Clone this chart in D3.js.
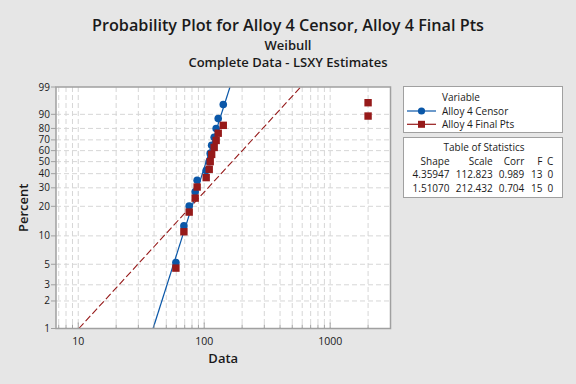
<!DOCTYPE html>
<html><head><meta charset="utf-8">
<script src="https://cdn.jsdelivr.net/npm/d3@7"></script>
<style>
html,body{margin:0;padding:0;background:#e6e6e6;}
svg{display:block;font-family:"Open Sans","Noto Sans",sans-serif;}
</style></head>
<body>
<svg id="c" width="576" height="384"></svg>
<script>
// ---------- data ----------
const seriesNames = ["Alloy 4 Censor", "Alloy 4 Final Pts"];
const censorData = [59.6, 69.0, 76.0, 84.8, 87.9, 103.7, 109.6, 111.6, 114.6, 120.0, 124.4, 129.2, 141.7];
const finalPtsData = [59.6, 69.0, 76.0, 84.8, 87.9, 103.7, 109.6, 111.6, 114.6, 120.0, 124.4, 129.2, 141.7, 2000, 2000];
const shapes = [4.35947, 1.51070];
const scales = [112.823, 212.432];
const statHeaders = ["Shape", "Scale", "Corr", "F", "C"];
const statRows = [["4.35947", "112.823", "0.989", "13", "0"], ["1.51070", "212.432", "0.704", "15", "0"]];
const percentTicks = [1, 2, 3, 5, 10, 20, 30, 40, 50, 60, 70, 80, 90, 99];
const xTickLabels = [10, 100, 1000];
const xGridValues = [7, 8, 9, 10, 20, 30, 40, 50, 60, 70, 80, 90, 100, 200, 300, 400, 500, 600, 700, 800, 900, 1000, 2000];

// ---------- layout ----------
const W = 576, H = 384;
const L = 56, R = 390.5, T = 87, B = 328.5;
const colors = ["#0a57a8", "#961a1a"];
const textCol = "#1a1a1a";

const svg = d3.select("#c");
svg.append("rect").attr("width", W).attr("height", H).attr("fill", "#e6e6e6");

const tr = p => Math.log(-Math.log(1 - p));
const x = d3.scaleLog().domain([6.66, 3013]).range([L, R]);
const y = d3.scaleLinear().domain([tr(0.01), tr(0.99)]).range([B, T]);
const yp = pct => y(tr(pct / 100));

// plot bg
svg.append("rect").attr("x", L).attr("y", T).attr("width", R - L).attr("height", B - T).attr("fill", "#fff");

// grids
const g = svg.append("g");
g.selectAll(".vg").data(xGridValues).join("line")
  .attr("x1", d => x(d)).attr("x2", d => x(d)).attr("y1", T).attr("y2", B)
  .attr("stroke", "#d6d6d6").attr("stroke-width", 1).attr("stroke-dasharray", "5,3");
g.selectAll(".hg").data(percentTicks.filter(d => d > 1 && d < 99)).join("line")
  .attr("x1", L).attr("x2", R).attr("y1", d => yp(d)).attr("y2", d => yp(d))
  .attr("stroke", "#d6d6d6").attr("stroke-width", 1).attr("stroke-dasharray", "5,3");

// clip
svg.append("clipPath").attr("id", "clip").append("rect").attr("x", L).attr("y", T).attr("width", R - L).attr("height", B - T);

// fit lines
const fitLine = (shape, scale) => [0.01, 0.99].map(p => [x(scale * Math.pow(-Math.log(1 - p), 1 / shape)), y(tr(p))]);
const line = d3.line();
svg.append("path").attr("clip-path", "url(#clip)").attr("d", line(fitLine(shapes[0], scales[0])))
  .attr("stroke", colors[0]).attr("stroke-width", 1.2).attr("fill", "none");
svg.append("path").attr("clip-path", "url(#clip)").attr("d", line(fitLine(shapes[1], scales[1])))
  .attr("stroke", colors[1]).attr("stroke-width", 1.1).attr("fill", "none").attr("stroke-dasharray", "7,3");

// points (median rank plotting positions)
const pos = (arr) => { const s = arr.slice().sort((a, b) => a - b); const n = s.length; return s.map((v, i) => ({v, p: (i + 1 - 0.3) / (n + 0.4)})); };
svg.append("g").selectAll("circle").data(pos(censorData)).join("circle")
  .attr("cx", d => x(d.v)).attr("cy", d => y(tr(d.p))).attr("r", 3.8).attr("fill", colors[0]);
svg.append("g").selectAll("rect").data(pos(finalPtsData)).join("rect")
  .attr("x", d => x(d.v) - 3.7).attr("y", d => y(tr(d.p)) - 3.7).attr("width", 7.4).attr("height", 7.4).attr("fill", colors[1]);

// x axis ticks (inward)
const xa = svg.append("g");
xa.selectAll("line").data(xGridValues).join("line")
  .attr("x1", d => x(d)).attr("x2", d => x(d))
  .attr("y1", B).attr("y2", d => xTickLabels.includes(d) ? B - 6 : B - 4).attr("stroke", "#a0a0a0");

// frame
svg.append("rect").attr("x", L).attr("y", T).attr("width", R - L).attr("height", B - T)
  .attr("fill", "none").attr("stroke", "#a0a0a0").attr("stroke-width", 1.5);

// y axis ticks + labels
const ya = svg.append("g");
ya.selectAll("line").data(percentTicks).join("line")
  .attr("x1", L - 5).attr("x2", L).attr("y1", d => yp(d)).attr("y2", d => yp(d)).attr("stroke", "#a0a0a0");
ya.selectAll("text").data(percentTicks).join("text")
  .attr("x", L - 6).attr("y", d => yp(d)).attr("dy", "0.35em").attr("text-anchor", "end")
  .attr("font-size", 10).attr("fill", textCol).text(d => d);

xa.selectAll("text").data(xTickLabels).join("text")
  .attr("x", d => x(d)).attr("y", 345).attr("text-anchor", "middle")
  .attr("font-size", 10.5).attr("fill", textCol).text(d => d);

// axis titles
svg.append("text").attr("x", (L + R) / 2).attr("y", 363).attr("text-anchor", "middle")
  .attr("font-size", 13).attr("font-weight", 600).attr("fill", textCol).text("Data");
svg.append("text").attr("transform", `translate(28,${(T + B) / 2}) rotate(-90)`).attr("text-anchor", "middle")
  .attr("font-size", 13).attr("font-weight", 600).attr("fill", textCol).text("Percent");

// titles
svg.append("text").attr("x", 288).attr("y", 31).attr("text-anchor", "middle")
  .attr("font-size", 16.2).attr("font-weight", 600).attr("fill", textCol)
  .text("Probability Plot for " + seriesNames.join(", "));
svg.append("text").attr("x", 288).attr("y", 50).attr("text-anchor", "middle")
  .attr("font-size", 13).attr("font-weight", 600).attr("fill", textCol).text("Weibull");
svg.append("text").attr("x", 288).attr("y", 66.5).attr("text-anchor", "middle")
  .attr("font-size", 13).attr("font-weight", 600).attr("fill", textCol).text("Complete Data - LSXY Estimates");

// legend
const lx = 403.5, lw = 159;
svg.append("rect").attr("x", lx).attr("y", 86.5).attr("width", lw).attr("height", 46)
  .attr("fill", "#fff").attr("stroke", "#a0a0a0").attr("stroke-width", 1);
svg.append("text").attr("x", 442).attr("y", 100.5).attr("font-size", 10).attr("fill", textCol).text("Variable");
seriesNames.forEach((nm, i) => {
  const yy = 111 + i * 13.3;
  svg.append("line").attr("x1", 407).attr("x2", 436).attr("y1", yy).attr("y2", yy).attr("stroke", colors[i]).attr("stroke-width", 1.2);
  if (i === 0) svg.append("circle").attr("cx", 421.5).attr("cy", yy).attr("r", 3.6).attr("fill", colors[i]);
  else svg.append("rect").attr("x", 418).attr("y", yy - 3.5).attr("width", 7).attr("height", 7).attr("fill", colors[i]);
  svg.append("text").attr("x", 442).attr("y", yy + 3.6).attr("font-size", 10).attr("fill", textCol).text(nm);
});

// stats table
svg.append("rect").attr("x", lx).attr("y", 137.5).attr("width", lw).attr("height", 60)
  .attr("fill", "#fff").attr("stroke", "#a0a0a0").attr("stroke-width", 1);
svg.append("text").attr("x", 484).attr("y", 151).attr("text-anchor", "middle").attr("font-size", 10).attr("fill", textCol).text("Table of Statistics");
const colRight = [449.5, 492.7, 524.3, 542.5, 553.3];
statHeaders.forEach((h, j) => svg.append("text").attr("x", colRight[j]).attr("y", 164.5).attr("text-anchor", "end").attr("font-size", 10).attr("fill", textCol).text(h));
statRows.forEach((row, i) => row.forEach((c, j) =>
  svg.append("text").attr("x", colRight[j]).attr("y", 178 + i * 13.7).attr("text-anchor", "end").attr("font-size", 10).attr("fill", textCol).text(c)));
</script>
</body></html>
